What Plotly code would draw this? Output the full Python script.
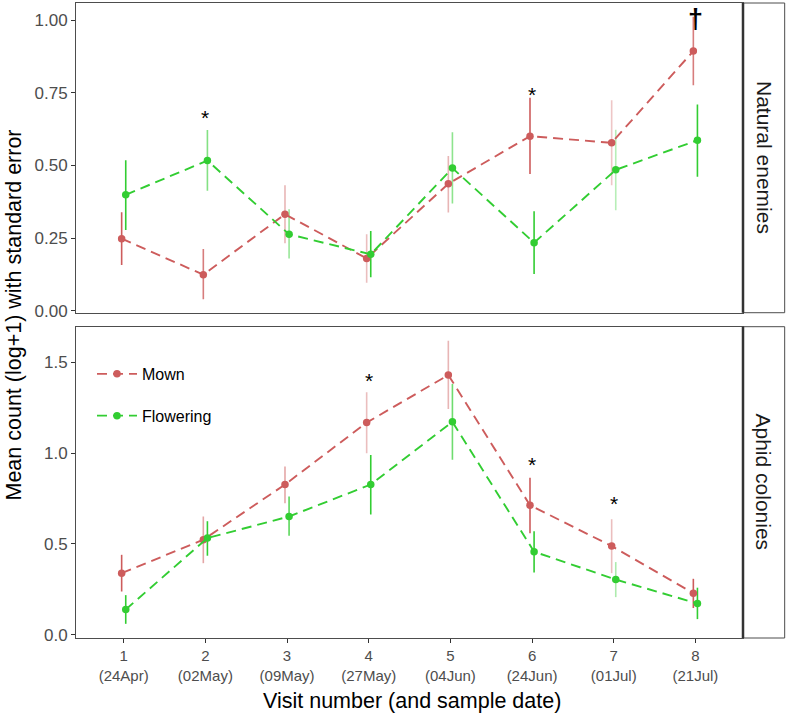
import plotly.graph_objects as go

# ---------------- data ----------------
visits = [1, 2, 3, 4, 5, 6, 7, 8]
dates = ["24Apr", "02May", "09May", "27May", "04Jun", "24Jun", "01Jul", "21Jul"]
groups = ["Mown", "Flowering"]
panels = ["Natural enemies", "Aphid colonies"]

# Natural enemies
ne_mown_mean = [0.248, 0.124, 0.332, 0.180, 0.437, 0.601, 0.578, 0.894]
ne_mown_low = [0.157, 0.039, 0.232, 0.096, 0.338, 0.471, 0.432, 0.776]
ne_mown_high = [0.339, 0.212, 0.432, 0.263, 0.533, 0.733, 0.725, 1.012]
ne_flow_mean = [0.399, 0.517, 0.263, 0.194, 0.491, 0.234, 0.485, 0.587]
ne_flow_low = [0.278, 0.413, 0.180, 0.115, 0.369, 0.126, 0.346, 0.461]
ne_flow_high = [0.518, 0.622, 0.349, 0.274, 0.614, 0.342, 0.623, 0.710]

# Aphid colonies
ap_mown_mean = [0.339, 0.523, 0.827, 1.168, 1.430, 0.713, 0.488, 0.229]
ap_mown_low = [0.238, 0.394, 0.724, 0.999, 1.243, 0.559, 0.339, 0.147]
ap_mown_high = [0.440, 0.651, 0.926, 1.335, 1.619, 0.864, 0.636, 0.308]
ap_flow_mean = [0.139, 0.532, 0.651, 0.827, 1.172, 0.457, 0.304, 0.172]
ap_flow_low = [0.060, 0.435, 0.545, 0.662, 0.963, 0.343, 0.207, 0.086]
ap_flow_high = [0.218, 0.625, 0.761, 0.990, 1.381, 0.570, 0.400, 0.259]

# significance markers (visit, symbol, label height)
ne_sig_visit = [2, 6, 8]
ne_sig_label = ["*", "*", "†"]
ne_sig_y = [0.664, 0.744, 1.006]
ap_sig_visit = [4, 6, 7]
ap_sig_label = ["*", "*", "*"]
ap_sig_y = [1.40, 0.94, 0.72]

# ---------------- style ----------------
FONT = "Liberation Sans, Arial, sans-serif"
colors = {"Mown": (205, 92, 92), "Flowering": (50, 205, 50)}
dodge = {"Mown": -0.025, "Flowering": 0.025}
err_alpha = {
    ("Natural enemies", "Mown"): [1, 0.8, 0.45, 0.4, 0.45, 1, 0.35, 0.8],
    ("Natural enemies", "Flowering"): [1, 0.6, 0.5, 1, 0.55, 1, 0.35, 1],
    ("Aphid colonies", "Mown"): [1, 0.55, 0.55, 0.4, 0.45, 1, 0.4, 1],
    ("Aphid colonies", "Flowering"): [1, 1, 0.8, 1, 0.7, 1, 0.4, 1],
}

W, H = 786, 713
L, R, T, B = 76, 743.3, 2.7, 638.3
plot_h = B - T
plot_w = R - L
top_dom = [(B - 312.7) / plot_h, 1.0]
bot_dom = [0.0, (B - 326.7) / plot_h]

data = {
    ("Natural enemies", "Mown"): (ne_mown_mean, ne_mown_low, ne_mown_high),
    ("Natural enemies", "Flowering"): (ne_flow_mean, ne_flow_low, ne_flow_high),
    ("Aphid colonies", "Mown"): (ap_mown_mean, ap_mown_low, ap_mown_high),
    ("Aphid colonies", "Flowering"): (ap_flow_mean, ap_flow_low, ap_flow_high),
}
axes = {"Natural enemies": ("x", "y"), "Aphid colonies": ("x2", "y2")}

fig = go.Figure()

def rgba(c, a):
    return "rgba(%d,%d,%d,%.2f)" % (c[0], c[1], c[2], a)

# error bars first
for panel in panels:
    xa, ya = axes[panel]
    for g in groups:
        mean, low, high = data[(panel, g)]
        for i, v in enumerate(visits):
            fig.add_trace(go.Scatter(
                x=[v + dodge[g], v + dodge[g]], y=[low[i], high[i]],
                mode="lines", xaxis=xa, yaxis=ya, showlegend=False, hoverinfo="skip",
                line=dict(color=rgba(colors[g], err_alpha[(panel, g)][i]), width=1.6),
            ))

# lines + points
for panel in panels:
    xa, ya = axes[panel]
    for g in groups:
        mean, low, high = data[(panel, g)]
        fig.add_trace(go.Scatter(
            x=[v + dodge[g] for v in visits], y=mean, mode="lines+markers",
            name=g, legendgroup=g, showlegend=(panel == "Aphid colonies"),
            xaxis=xa, yaxis=ya,
            line=dict(color=rgba(colors[g], 1), width=1.9, dash="10px,6px"),
            marker=dict(color=rgba(colors[g], 1), size=7.5),
        ))

annotations = []
for panel, sv, sl, sy in [("Natural enemies", ne_sig_visit, ne_sig_label, ne_sig_y),
                          ("Aphid colonies", ap_sig_visit, ap_sig_label, ap_sig_y)]:
    xa, ya = axes[panel]
    for v, lab, yy in zip(sv, sl, sy):
        dagger = lab == "†"
        annotations.append(dict(
            x=v, y=yy, xref=xa, yref=ya,
            text=("<b>%s</b>" % lab) if dagger else lab, showarrow=False,
            font=dict(size=27 if dagger else 21, color="black", family=FONT),
            xanchor="center", yanchor="middle",
        ))

# strips
strip_x0 = 1.0
strip_x1 = (785 - L) / plot_w
shapes = []
for panel, dom in [("Natural enemies", top_dom), ("Aphid colonies", bot_dom)]:
    shapes.append(dict(type="rect", xref="paper", yref="paper", x0=strip_x0, x1=strip_x1,
                       y0=dom[0], y1=dom[1], line=dict(color="#4d4d4d", width=1),
                       fillcolor="white", layer="below"))
    shapes.append(dict(type="line", xref="paper", yref="paper", x0=strip_x0, x1=strip_x0,
                       y0=dom[0], y1=dom[1], line=dict(color="#333333", width=2.5)))
    annotations.append(dict(
        x=(strip_x0 + strip_x1) / 2, y=(dom[0] + dom[1]) / 2, xref="paper", yref="paper",
        text=panel, textangle=90, showarrow=False, xanchor="center", yanchor="middle",
        font=dict(size=21, color="#1a1a1a", family=FONT),
    ))

# axis titles
annotations.append(dict(
    x=(13.5 - L) / plot_w, y=(B - 315) / plot_h, xref="paper", yref="paper",
    text="Mean count (log+1) with standard error", textangle=-90, showarrow=False,
    xanchor="center", yanchor="middle",
    font=dict(size=21.5, color="black", family=FONT),
))
annotations.append(dict(
    x=(411.7 - L) / plot_w, y=(B - 701.7) / plot_h, xref="paper", yref="paper",
    text="Visit number (and sample date)", showarrow=False,
    xanchor="center", yanchor="middle",
    font=dict(size=21.5, color="black", family=FONT),
))

tick_text = ["%d<br>(%s)" % (v, d) for v, d in zip(visits, dates)]
axis_common = dict(showgrid=False, zeroline=False, showline=True, mirror=True,
                   linecolor="#4d4d4d", linewidth=1, ticks="outside", ticklen=4,
                   tickcolor="#333333", tickwidth=1)
xrange = [0.416, 8.583]

fig.update_layout(
    width=W, height=H,
    margin=dict(l=L, r=W - R, t=T, b=H - B),
    paper_bgcolor="white", plot_bgcolor="white",
    font=dict(family=FONT),
    xaxis=dict(domain=[0, 1], anchor="y", range=xrange, tickvals=visits,
               showticklabels=False, showgrid=False, zeroline=False, showline=True,
               mirror=True, linecolor="#4d4d4d", linewidth=1, ticks=""),
    yaxis=dict(domain=top_dom, anchor="x", range=[-0.007, 1.0595],
               tickvals=[0, 0.25, 0.5, 0.75, 1.0],
               ticktext=["0.00", "0.25", "0.50", "0.75", "1.00"],
               tickfont=dict(size=17, color="#4d4d4d", family=FONT), **axis_common),
    xaxis2=dict(domain=[0, 1], anchor="y2", range=xrange, tickvals=visits,
                ticktext=tick_text,
                tickfont=dict(size=15, color="#4d4d4d", family=FONT), **axis_common),
    yaxis2=dict(domain=bot_dom, anchor="x2", range=[-0.018, 1.696],
                tickvals=[0, 0.5, 1.0, 1.5], ticktext=["0.0", "0.5", "1.0", "1.5"],
                tickfont=dict(size=17, color="#4d4d4d", family=FONT), **axis_common),
    legend=dict(x=(92 - L) / plot_w, y=(B - 357) / plot_h, xanchor="left", yanchor="top",
                bgcolor="rgba(0,0,0,0)", font=dict(size=16, color="black", family=FONT),
                traceorder="grouped", tracegroupgap=18, itemwidth=40),
    annotations=annotations,
    shapes=shapes,
)

fig.write_html("out.html")
